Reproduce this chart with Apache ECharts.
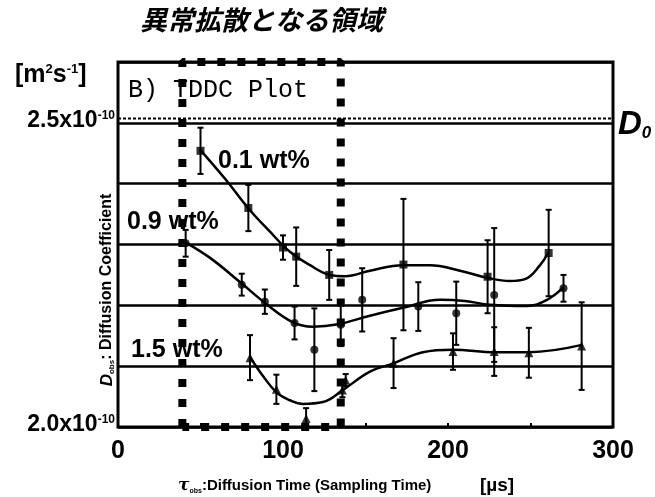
<!DOCTYPE html>
<html>
<head>
<meta charset="utf-8">
<script src="https://cdn.jsdelivr.net/npm/echarts@6/dist/echarts.min.js"></script>
<style>
  html, body { margin: 0; padding: 0; background: #fff; }
  #chart { width: 655px; height: 497px; }
</style>
</head>
<body>
<div id="chart"></div>
<script>
// Measured diffusion coefficients (x1e-10 m^2/s) against diffusion time (µs)
const tau01 = [50, 79, 100, 108, 128, 173, 224, 261];
const d01   = [2.454, 2.360, 2.295, 2.280, 2.250, 2.267, 2.247, 2.286];
const e01   = [0.038, 0.038, 0.020, 0.048, 0.041, 0.108, 0.060, 0.071];

const tau09 = [41, 75, 89, 107, 119, 135, 148, 182, 205, 228, 270];
const d09   = [2.302, 2.234, 2.206, 2.171, 2.127, 2.168, 2.209, 2.198, 2.187, 2.217, 2.228];
const e09   = [0.022, 0.018, 0.020, 0.027, 0.068, 0.035, 0.052, 0.040, 0.052, 0.110, 0.022];

const tau15 = [80, 96, 114, 136, 138, 167, 203, 228, 249, 281];
const d15   = [2.114, 2.062, 2.014, 2.061, 2.077, 2.105, 2.124, 2.124, 2.122, 2.133];
const e15   = [0.037, 0.024, 0.017, 0.012, 0.010, 0.041, 0.030, 0.040, 0.041, 0.072];

// Hand-drawn fit curves through each concentration
const fitTau01 = [49.7, 65.5, 78.8, 92.1, 104.2, 116.4, 128.5, 137.6, 152.7, 172.7, 189.1, 207.3, 224.2, 237.6, 246.7, 255.8, 260.6];
const fitD01   = [2.456, 2.406, 2.360, 2.321, 2.288, 2.266, 2.250, 2.248, 2.257, 2.266, 2.266, 2.257, 2.245, 2.240, 2.243, 2.266, 2.286];

const fitTau09 = [40.6, 55.8, 74.5, 89.1, 105.5, 118.2, 133.3, 152.7, 172.7, 195.2, 210.3, 225.5, 247.9, 260.0, 269.7];
const fitD09   = [2.304, 2.278, 2.237, 2.204, 2.173, 2.165, 2.169, 2.183, 2.196, 2.209, 2.207, 2.201, 2.199, 2.209, 2.229];

const fitTau15 = [80, 87.3, 96.4, 104.2, 112.1, 124.2, 136.4, 152.7, 167.3, 184.8, 203, 228.5, 249.1, 281.2];
const fitD15   = [2.115, 2.086, 2.056, 2.044, 2.038, 2.041, 2.061, 2.091, 2.105, 2.123, 2.127, 2.123, 2.123, 2.135];

// Reference self-diffusion coefficient D0 and the anomalous-diffusion window
const dZero = 2.507;
const anomalousWindow = [39, 135];

const xTicks = [0, 100, 200, 300];
const yTickLabels = { '2.5': '2.5x10', '2.0': '2.0x10' };

const pair = (xs, ys) => xs.map((x, i) => [x, ys[i]]);
const withErr = (xs, ys, es) => xs.map((x, i) => [x, ys[i], es[i]]);

function errorBars(api) {
  const x = api.value(0), y = api.value(1), e = api.value(2);
  const top = api.coord([x, y + e]);
  const bot = api.coord([x, y - e]);
  const cap = 3;
  const style = { stroke: '#000', lineWidth: 2, fill: null };
  return {
    type: 'group',
    children: [
      { type: 'line', shape: { x1: top[0], y1: top[1], x2: bot[0], y2: bot[1] }, style },
      { type: 'line', shape: { x1: top[0] - cap, y1: top[1], x2: top[0] + cap, y2: top[1] }, style },
      { type: 'line', shape: { x1: bot[0] - cap, y1: bot[1], x2: bot[0] + cap, y2: bot[1] }, style }
    ]
  };
}

const chart = echarts.init(document.getElementById('chart'), null, { renderer: 'canvas' });

const boldSans = 'Liberation Sans, Arial, sans-serif';

const option = {
  animation: false,
  backgroundColor: '#fff',
  grid: { left: 118, right: 42, top: 62, bottom: 70, show: true, borderColor: '#000', borderWidth: 3, backgroundColor: 'transparent' },
  xAxis: {
    type: 'value', min: 0, max: 300, interval: 50,
    axisLine: { show: false },
    axisTick: { show: true, inside: true, length: 4, lineStyle: { color: '#000', width: 2 } },
    splitLine: { show: false },
    axisLabel: {
      margin: 12,
      color: '#000', fontFamily: boldSans, fontWeight: 'bold', fontSize: 25,
      formatter: v => {
        const r = Math.round(v);
        return (Math.abs(v - r) < 1e-6 && xTicks.includes(r)) ? String(r) : '';
      }
    }
  },
  yAxis: {
    type: 'value', min: 2.0, max: 2.6, interval: 0.1,
    axisLine: { show: false },
    axisTick: { show: false },
    splitLine: { show: true, lineStyle: { color: '#000', width: 2.5 } },
    axisLabel: {
      margin: 3,
      formatter: v => {
        const k = (Math.round(v * 10) / 10).toFixed(1);
        return yTickLabels[k] ? '{b|' + yTickLabels[k] + '}{s|-10}' : '';
      },
      rich: {
        b: { color: '#000', fontFamily: boldSans, fontWeight: 'bold', fontSize: 23, padding: [0, 0, 4, 0] },
        s: { color: '#000', fontFamily: boldSans, fontWeight: 'bold', fontSize: 12, verticalAlign: 'top', padding: [0, 0, 14, 0] }
      }
    }
  },
  series: [
    // D0 reference level
    { type: 'line', data: [[0, dZero], [300, dZero]], symbol: 'none', z: 3,
      lineStyle: { color: '#000', width: 2, type: [3, 2] } },
    // fit curves
    { type: 'line', data: pair(fitTau01, fitD01), smooth: 0.4, symbol: 'none', z: 4, lineStyle: { color: '#000', width: 2.5 } },
    { type: 'line', data: pair(fitTau09, fitD09), smooth: 0.4, symbol: 'none', z: 4, lineStyle: { color: '#000', width: 2.5 } },
    { type: 'line', data: pair(fitTau15, fitD15), smooth: 0.4, symbol: 'none', z: 4, lineStyle: { color: '#000', width: 2.5 } },
    // error bars
    { type: 'custom', renderItem: (p, api) => errorBars(api), data: withErr(tau01, d01, e01), z: 5 },
    { type: 'custom', renderItem: (p, api) => errorBars(api), data: withErr(tau09, d09, e09), z: 5 },
    { type: 'custom', renderItem: (p, api) => errorBars(api), data: withErr(tau15, d15, e15), z: 5 },
    // measured points
    { type: 'scatter', data: pair(tau01, d01), symbol: 'rect', symbolSize: 8, itemStyle: { color: '#000' }, z: 6 },
    { type: 'scatter', data: pair(tau09, d09), symbol: 'circle', symbolSize: 8, itemStyle: { color: '#000' }, z: 6 },
    { type: 'scatter', data: pair(tau15, d15), symbol: 'triangle', symbolSize: 9, itemStyle: { color: '#000' }, z: 6 },
    // anomalous-diffusion window outline
    { type: 'line', symbol: 'none', z: 7,
      data: [[anomalousWindow[0], 2.0], [anomalousWindow[0], 2.6], [anomalousWindow[1], 2.6], [anomalousWindow[1], 2.0], [anomalousWindow[0], 2.0]],
      lineStyle: { color: '#000', width: 8, type: [8, 12], cap: 'butt' } }
  ],
  graphic: [
    { type: 'text', x: 140, y: 20, z: 10, style: { text: '異常拡散となる領域', fill: '#000', font: 'italic bold 27px "Noto Sans CJK JP"', textAlign: 'left', textVerticalAlign: 'middle' } },
    { type: 'text', x: 15, y: 75, z: 10, style: {
      text: '{a|[m}{p|2}{a|s}{p|-1}{a|]}', textVerticalAlign: 'middle',
      rich: {
        a: { fill: '#000', fontFamily: boldSans, fontWeight: 'bold', fontSize: 25 },
        p: { fill: '#000', fontFamily: boldSans, fontWeight: 'bold', fontSize: 13, verticalAlign: 'top', padding: [0, 0, 10, 0] }
      } } },
    { type: 'text', x: 128, y: 90, z: 2, style: { text: 'B) TDDC Plot', fill: '#000', font: '25px "Liberation Mono", monospace', textVerticalAlign: 'middle' } },
    { type: 'text', x: 218, y: 161, z: 8, style: { text: '0.1 wt%', fill: '#000', font: 'bold 25px "Liberation Sans", Arial', textVerticalAlign: 'middle' } },
    { type: 'text', x: 127, y: 222, z: 8, style: { text: '0.9 wt%', fill: '#000', font: 'bold 25px "Liberation Sans", Arial', textVerticalAlign: 'middle' } },
    { type: 'text', x: 131, y: 350, z: 8, style: { text: '1.5 wt%', fill: '#000', font: 'bold 25px "Liberation Sans", Arial', textVerticalAlign: 'middle' } },
    { type: 'text', x: 618, y: 125, z: 10, style: {
      text: '{d|D}{z|0}', textVerticalAlign: 'middle',
      rich: {
        d: { fill: '#000', fontFamily: boldSans, fontWeight: 'bold', fontStyle: 'italic', fontSize: 33 },
        z: { fill: '#000', fontFamily: boldSans, fontStyle: 'italic', fontWeight: 'bold', fontSize: 17, verticalAlign: 'bottom', padding: [10, 0, 0, 0] }
      } } },
    { type: 'text', x: 107, y: 290, rotation: Math.PI / 2, z: 10, style: {
      text: '{d|D}{s|obs}{n|: Diffusion Coefficient}', textAlign: 'center', textVerticalAlign: 'middle',
      rich: {
        d: { fill: '#000', fontFamily: boldSans, fontWeight: 'bold', fontStyle: 'italic', fontSize: 17 },
        s: { fill: '#000', fontFamily: boldSans, fontWeight: 'bold', fontSize: 8, verticalAlign: 'bottom', padding: [6, 0, 0, 0] },
        n: { fill: '#000', fontFamily: boldSans, fontWeight: 'bold', fontSize: 16 }
      } } },
    { type: 'text', x: 178, y: 486, z: 10, style: {
      text: '{t|τ}{s|obs}{n|:Diffusion Time (Sampling Time)}', textVerticalAlign: 'middle',
      rich: {
        t: { fill: '#000', fontFamily: 'DejaVu Serif', fontWeight: 'bold', fontStyle: 'italic', fontSize: 17 },
        s: { fill: '#000', fontFamily: boldSans, fontWeight: 'bold', fontSize: 7, verticalAlign: 'bottom', padding: [6, 0, 0, 0] },
        n: { fill: '#000', fontFamily: boldSans, fontWeight: 'bold', fontSize: 15 }
      } } },
    { type: 'text', x: 480, y: 486, z: 10, style: { text: '[µs]', fill: '#000', font: 'bold 19px "Liberation Sans", Arial', textVerticalAlign: 'middle' } }
  ]
};

chart.setOption(option);
</script>
</body>
</html>
